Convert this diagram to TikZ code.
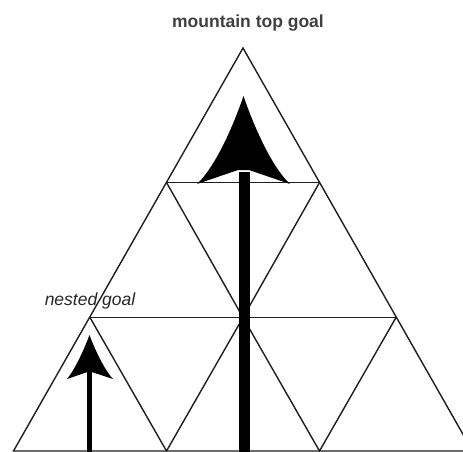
\documentclass[tikz,border=0pt]{standalone}
\usepackage{fontspec}
\setmainfont{Liberation Sans}
\definecolor{titlegray}{RGB}{64,64,64}
\definecolor{linegray}{RGB}{30,30,30}
\begin{document}
\begin{tikzpicture}[x=1pt,y=-1pt,
  grid/.style={draw=linegray,line width=1.4pt,line join=miter},
  headfill/.style={fill=black}]
\useasboundingbox (0,0) rectangle (463,451);
\clip (0,0) rectangle (463,451);
% vertices
\coordinate (A) at (243,48);
\coordinate (B1) at (166.5,182.5);
\coordinate (B2) at (319.5,182.5);
\coordinate (C1) at (90,317.5);
\coordinate (C2) at (243,317.5);
\coordinate (C3) at (396,317.5);
\coordinate (D1) at (13.5,451);
\coordinate (D2) at (166.5,451);
\coordinate (D3) at (319.5,451);
\coordinate (D4) at (472.5,451);
% grid
\draw[grid] (A) -- (D1) -- (D4) -- cycle;
\draw[grid] (B1) -- (B2);
\draw[grid] (C1) -- (C3);
\draw[grid] (B1) -- (C2) -- (B2);
\draw[grid] (C1) -- (D2) -- (C2) -- (D3) -- (C3);
% big arrow
\coordinate (bigtip) at (243.5,96);
\coordinate (bigL) at (197,184);
\coordinate (bigR) at (290,184);
\coordinate (bignotchL) at (238,170);
\coordinate (bignotchR) at (249,170);
\fill (238.5,172) rectangle (249.5,455);
\fill[headfill] (bigtip) .. controls (236,118) and (218,164) .. (bigL)
  -- (bignotchL) -- (bignotchR) -- (bigR)
  .. controls (269,164) and (251,118) .. (bigtip) -- cycle;
% small arrow
\coordinate (smtip) at (89.5,335);
\coordinate (smL) at (67,379);
\coordinate (smR) at (113,379);
\fill (87.3,372) rectangle (91.7,455);
\fill[headfill] (smtip) .. controls (85,347) and (76,368) .. (smL)
  -- (87.3,372) -- (91.7,372) -- (smR)
  .. controls (103,368) and (94,347) .. (smtip) -- cycle;
% labels
\node[anchor=base,text=titlegray,font=\bfseries\fontsize{17.5}{20}\selectfont,inner sep=0pt] (title) at (248,27) {mountain top goal};
\node[anchor=base,text=black!85,font=\itshape\fontsize{17.5}{20}\selectfont,inner sep=0pt] (nested) at (90,305) {nested goal};
\end{tikzpicture}
\end{document}
